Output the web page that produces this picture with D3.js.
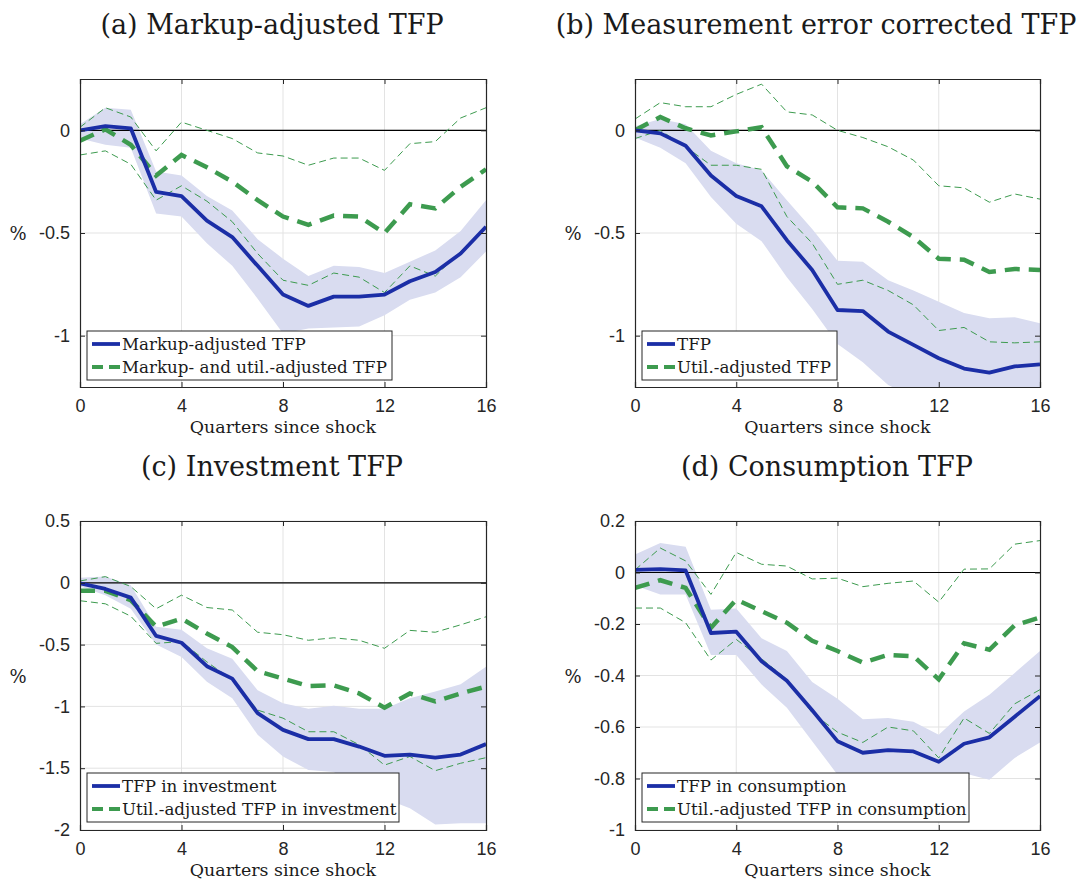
<!DOCTYPE html>
<html>
<head>
<meta charset="utf-8">
<script src="https://cdn.jsdelivr.net/npm/d3@7"></script>
<style>
  body { margin: 0; background: #fff; }
  .tick text { font-family: "Liberation Sans", Arial, sans-serif; font-size: 18px; fill: #262626; }
  .serif { font-family: "DejaVu Serif", serif; fill: #1a1a1a; }
</style>
</head>
<body>
<div id="chart"></div>
<script>
// quarters since shock
const quarters = d3.range(0, 17);

// (a) Markup-adjusted TFP
const aMain   = [0.0, 0.02, 0.01, -0.30, -0.32, -0.44, -0.52, -0.66, -0.80, -0.855, -0.81, -0.81, -0.80, -0.735, -0.69, -0.60, -0.47];
const aMainLo = [-0.04, -0.07, -0.085, -0.405, -0.42, -0.55, -0.66, -0.82, -0.99, -0.965, -0.96, -0.955, -0.90, -0.825, -0.79, -0.715, -0.59];
const aMainHi = [0.03, 0.11, 0.10, -0.20, -0.22, -0.32, -0.39, -0.53, -0.625, -0.71, -0.66, -0.665, -0.695, -0.64, -0.585, -0.49, -0.34];
const aUtil   = [-0.05, 0.005, -0.07, -0.22, -0.12, -0.18, -0.25, -0.34, -0.42, -0.46, -0.415, -0.42, -0.50, -0.36, -0.38, -0.275, -0.19];
const aUtilLo = [-0.12, -0.10, -0.165, -0.34, -0.27, -0.345, -0.445, -0.60, -0.73, -0.755, -0.695, -0.715, -0.79, -0.66, -0.71, -0.59, -0.47];
const aUtilHi = [0.015, 0.11, 0.065, -0.10, 0.04, 0.0, -0.04, -0.11, -0.125, -0.17, -0.135, -0.135, -0.195, -0.065, -0.055, 0.06, 0.11];

// (b) Measurement error corrected TFP
const bMain   = [0.0, -0.015, -0.075, -0.22, -0.32, -0.37, -0.535, -0.68, -0.875, -0.88, -0.98, -1.045, -1.11, -1.16, -1.18, -1.15, -1.14];
const bMainLo = [-0.035, -0.085, -0.16, -0.325, -0.455, -0.54, -0.715, -0.87, -1.04, -1.13, -1.24, -1.30, -1.35, -1.40, -1.42, -1.40, -1.38];
const bMainHi = [0.02, 0.055, 0.03, -0.10, -0.16, -0.195, -0.34, -0.48, -0.635, -0.64, -0.73, -0.78, -0.835, -0.89, -0.915, -0.91, -0.94];
const bUtil   = [0.0, 0.065, 0.01, -0.025, -0.005, 0.015, -0.175, -0.25, -0.375, -0.38, -0.445, -0.52, -0.625, -0.63, -0.69, -0.675, -0.68];
const bUtilLo = [-0.04, 0.0, -0.08, -0.17, -0.17, -0.19, -0.42, -0.55, -0.75, -0.73, -0.78, -0.85, -0.975, -0.96, -1.03, -1.035, -1.03];
const bUtilHi = [0.055, 0.135, 0.115, 0.115, 0.175, 0.225, 0.09, 0.075, 0.0, -0.035, -0.08, -0.145, -0.27, -0.28, -0.35, -0.31, -0.335];

// (c) Investment TFP
const cMain   = [-0.005, -0.05, -0.12, -0.43, -0.485, -0.675, -0.775, -1.055, -1.19, -1.265, -1.265, -1.325, -1.40, -1.39, -1.415, -1.39, -1.305];
const cMainLo = [-0.03, -0.10, -0.21, -0.50, -0.60, -0.80, -0.935, -1.23, -1.405, -1.515, -1.53, -1.66, -1.745, -1.825, -1.955, -1.945, -1.945];
const cMainHi = [0.04, 0.05, -0.02, -0.355, -0.38, -0.53, -0.615, -0.87, -0.975, -1.02, -0.995, -1.02, -1.02, -0.935, -0.88, -0.82, -0.68];
const cUtil   = [-0.065, -0.065, -0.14, -0.355, -0.29, -0.41, -0.52, -0.715, -0.775, -0.835, -0.83, -0.895, -1.01, -0.895, -0.96, -0.895, -0.84];
const cUtilLo = [-0.145, -0.17, -0.27, -0.49, -0.475, -0.64, -0.785, -1.03, -1.095, -1.205, -1.205, -1.31, -1.475, -1.405, -1.52, -1.46, -1.415];
const cUtilHi = [0.015, 0.05, -0.03, -0.21, -0.10, -0.20, -0.22, -0.40, -0.42, -0.465, -0.445, -0.465, -0.53, -0.385, -0.40, -0.34, -0.275];

// (d) Consumption TFP
const dMain   = [0.01, 0.013, 0.008, -0.235, -0.23, -0.345, -0.42, -0.535, -0.655, -0.70, -0.69, -0.695, -0.735, -0.665, -0.64, -0.56, -0.48];
const dMainLo = [-0.05, -0.085, -0.085, -0.32, -0.32, -0.435, -0.525, -0.655, -0.785, -0.85, -0.84, -0.84, -0.84, -0.78, -0.805, -0.72, -0.66];
const dMainHi = [0.07, 0.115, 0.10, -0.145, -0.14, -0.255, -0.305, -0.425, -0.49, -0.57, -0.565, -0.58, -0.63, -0.54, -0.475, -0.39, -0.305];
const dUtil   = [-0.06, -0.03, -0.06, -0.215, -0.105, -0.15, -0.195, -0.265, -0.305, -0.35, -0.32, -0.325, -0.415, -0.275, -0.30, -0.205, -0.175];
const dUtilLo = [-0.138, -0.138, -0.195, -0.34, -0.26, -0.335, -0.415, -0.545, -0.62, -0.66, -0.60, -0.615, -0.72, -0.565, -0.625, -0.51, -0.455];
const dUtilHi = [0.01, 0.095, 0.045, -0.085, 0.078, 0.032, 0.025, -0.025, -0.022, -0.055, -0.042, -0.033, -0.115, 0.013, 0.014, 0.11, 0.124];

const titles = ["(a) Markup-adjusted TFP", "(b) Measurement error corrected TFP", "(c) Investment TFP", "(d) Consumption TFP"];
const legendMain = ["Markup-adjusted TFP", "TFP", "TFP in investment", "TFP in consumption"];
const legendUtil = ["Markup- and util.-adjusted TFP", "Util.-adjusted TFP", "Util.-adjusted TFP in investment", "Util.-adjusted TFP in consumption"];
const xTicks = [0, 4, 8, 12, 16];
const yTicksAB = [0, -0.5, -1];
const yTicksC = [0.5, 0, -0.5, -1, -1.5, -2];
const yTicksD = [0.2, 0, -0.2, -0.4, -0.6, -0.8, -1];

const blue = "#1b2ea6", green = "#3d9b4f", band = "#d9dcf0", axisCol = "#262626";

const panels = [
  {x0: 80,  x1: 486,  y0: 79,  y1: 387, dom: [-1.25, 0.25], ticks: yTicksAB, tx: 272, leg: [87, 331, 392],
   main: aMain, lo: aMainLo, hi: aMainHi, util: aUtil, ulo: aUtilLo, uhi: aUtilHi},
  {x0: 635, x1: 1040, y0: 79,  y1: 387, dom: [-1.25, 0.25], ticks: yTicksAB, tx: 816, leg: [642, 331, 837],
   main: bMain, lo: bMainLo, hi: bMainHi, util: bUtil, ulo: bUtilLo, uhi: bUtilHi},
  {x0: 80,  x1: 486,  y0: 521, y1: 830, dom: [-2, 0.5], ticks: yTicksC, tx: 272, leg: [87, 773, 399],
   main: cMain, lo: cMainLo, hi: cMainHi, util: cUtil, ulo: cUtilLo, uhi: cUtilHi},
  {x0: 635, x1: 1040, y0: 521, y1: 830, dom: [-1, 0.2], ticks: yTicksD, tx: 827, leg: [642, 773, 969],
   main: dMain, lo: dMainLo, hi: dMainHi, util: dUtil, ulo: dUtilLo, uhi: dUtilHi}
];

const fmt = d3.format("~g");
const svg = d3.select("#chart").append("svg")
  .attr("width", 1090).attr("height", 879);

panels.forEach((p, i) => {
  const x = d3.scaleLinear().domain([0, 16]).range([p.x0, p.x1]);
  const y = d3.scaleLinear().domain(p.dom).range([p.y1, p.y0]);
  const g = svg.append("g");

  g.append("clipPath").attr("id", "clip" + i)
    .append("rect").attr("x", p.x0).attr("y", p.y0).attr("width", p.x1 - p.x0).attr("height", p.y1 - p.y0);

  // grid
  g.append("g").selectAll("line").data(xTicks.slice(1, -1)).join("line")
    .attr("x1", d => x(d)).attr("x2", d => x(d)).attr("y1", p.y0).attr("y2", p.y1)
    .attr("stroke", "#e3e3e3").attr("stroke-width", 1);
  g.append("g").selectAll("line").data(p.ticks).join("line")
    .attr("x1", p.x0).attr("x2", p.x1).attr("y1", d => y(d)).attr("y2", d => y(d))
    .attr("stroke", "#e3e3e3").attr("stroke-width", 1);

  const plot = g.append("g").attr("clip-path", `url(#clip${i})`);

  // confidence band
  plot.append("path")
    .datum(quarters)
    .attr("fill", band)
    .attr("d", d3.area().x(q => x(q)).y0(q => y(p.lo[q])).y1(q => y(p.hi[q])));

  // zero line
  plot.append("line")
    .attr("x1", p.x0).attr("x2", p.x1).attr("y1", y(0)).attr("y2", y(0))
    .attr("stroke", "#000").attr("stroke-width", 1.2);

  const line = arr => d3.line().x(q => x(q)).y(q => y(arr[q]))(quarters);

  [p.ulo, p.uhi].forEach(arr => {
    plot.append("path").attr("d", line(arr))
      .attr("fill", "none").attr("stroke", green).attr("stroke-width", 1)
      .attr("stroke-dasharray", "7,4");
  });
  plot.append("path").attr("d", line(p.util))
    .attr("fill", "none").attr("stroke", green).attr("stroke-width", 4.5)
    .attr("stroke-dasharray", "15,9");
  plot.append("path").attr("d", line(p.main))
    .attr("fill", "none").attr("stroke", blue).attr("stroke-width", 3.8)
    .attr("stroke-linejoin", "round");

  // axes (ticks inside, box)
  g.append("g").attr("transform", `translate(0,${p.y1})`)
    .call(d3.axisBottom(x).tickValues(xTicks).tickSize(-5).tickPadding(12));
  const yAx = g.append("g").attr("transform", `translate(${p.x0},0)`)
    .call(d3.axisLeft(y).tickValues(p.ticks).tickSize(-5).tickPadding(10));
  g.append("g").attr("transform", `translate(0,${p.y0})`)
    .call(d3.axisTop(x).tickValues(xTicks).tickSize(-5).tickFormat(""));
  g.append("g").attr("transform", `translate(${p.x1},0)`)
    .call(d3.axisRight(y).tickValues(p.ticks).tickSize(-5).tickFormat(""));
  g.selectAll(".domain").attr("stroke", axisCol).attr("stroke-width", 1.2);
  g.selectAll(".tick line").attr("stroke", axisCol);
  yAx.selectAll(".tick text").text(d => d < 0 ? "-" + fmt(-d) : fmt(d));

  // titles and labels
  g.append("text").attr("class", "serif")
    .attr("x", p.tx).attr("y", p.y0 - 45)
    .attr("text-anchor", "middle").attr("font-size", 27)
    .text(titles[i]);
  g.append("text").attr("class", "serif")
    .attr("x", (p.x0 + p.x1) / 2).attr("y", p.y1 + 46)
    .attr("text-anchor", "middle").attr("font-size", 17.4)
    .text("Quarters since shock");
  g.append("text").attr("class", "serif")
    .attr("x", p.x0 - 62).attr("y", (p.y0 + p.y1) / 2 + 7)
    .attr("text-anchor", "middle").attr("font-size", 18)
    .text("%");

  // legend
  const [lx, ly, lx2] = p.leg;
  const lg = g.append("g");
  lg.append("rect").attr("x", lx).attr("y", ly).attr("width", lx2 - lx).attr("height", 49)
    .attr("fill", "#fff").attr("stroke", axisCol).attr("stroke-width", 1);
  lg.append("line").attr("x1", lx + 5).attr("x2", lx + 33).attr("y1", ly + 13).attr("y2", ly + 13)
    .attr("stroke", blue).attr("stroke-width", 3.8);
  lg.append("line").attr("x1", lx + 5).attr("x2", lx + 33).attr("y1", ly + 36).attr("y2", ly + 36)
    .attr("stroke", green).attr("stroke-width", 3.8).attr("stroke-dasharray", "11,6");
  lg.append("text").attr("class", "serif").attr("x", lx + 35).attr("y", ly + 19)
    .attr("font-size", 16.7).text(legendMain[i]);
  lg.append("text").attr("class", "serif").attr("x", lx + 35).attr("y", ly + 42)
    .attr("font-size", 16.7).text(legendUtil[i]);
});
</script>
</body>
</html>
